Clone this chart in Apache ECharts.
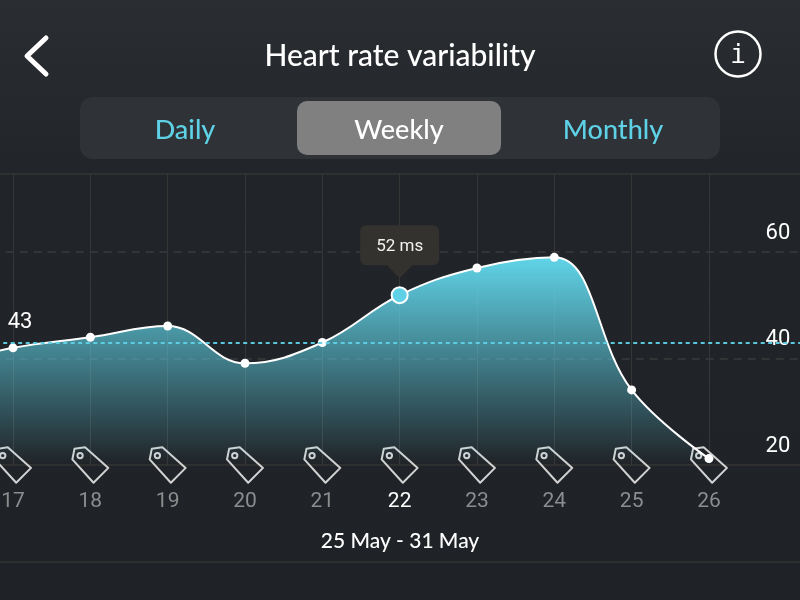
<!DOCTYPE html>
<html><head><meta charset="utf-8">
<style>html,body{margin:0;padding:0;background:#1f2226}#c{width:800px;height:600px}</style>
<script src="https://cdn.jsdelivr.net/npm/echarts@6/dist/echarts.min.js"></script>
</head><body><div id="c"></div>
<script>
var days = ['16','17','18','19','20','21','22','23','24','25','26','',''];
var hrv = [38.5,42,44,46.1,39.1,43,51.9,57,59,34.1,21.2,null,null];
var tagDays = ['17','18','19','20','21','22','23','24','25','26'];
var yTicks = [20,40,60];
var average = 43;
var selectedDay = '22';
var selectedLabel = '52 ms';
var titleText = 'Heart rate variability';
var tabs = ['Daily','Weekly','Monthly'];
var rangeText = '25 May - 31 May';

var CYAN = '#5fd1e6';
var TAG = 'path://M1 12 L3 2 L13 .5 L35 20 L21 34 Z M8.3 5.8 A2.5 2.5 0 1 0 8.31 5.8 Z';
var PIN = 'path://M6 0 H73 A6 6 0 0 1 79 6 V34 A6 6 0 0 1 73 40 H52 L39.5 53 L27 40 H6 A6 6 0 0 1 0 34 V6 A6 6 0 0 1 6 0 Z';
var FONT = 'Lato';
var chart = echarts.init(document.getElementById('c'));
function tabText(t,cx,sel){return {type:'text',x:cx,y:130,style:{text:t,fill:sel?'#ffffff':CYAN,font:'500 27px '+FONT,textAlign:'center',textVerticalAlign:'middle'}};}
chart.setOption({
  animation:false,
  backgroundColor:{type:'linear',x:0,y:0,x2:0,y2:1,colorStops:[{offset:0,color:'#2a2d31'},{offset:.3,color:'#212428'},{offset:1,color:'#1f2226'}]},
  grid:{left:-64.3,right:-63.6,top:174,bottom:135,outerBoundsMode:'none',containLabel:false,show:true,backgroundColor:'transparent',borderColor:'#353433',borderWidth:1.5},
  xAxis:{type:'category',boundaryGap:false,data:days,
    axisLine:{show:false},axisTick:{show:false},
    axisLabel:{interval:0,margin:26,fontFamily:'Roboto',fontSize:21,
      color:function(v){return v===selectedDay?'#ffffff':'#8b8d8f';},
      fontWeight:'normal'},
    splitLine:{show:true,interval:function(i,v){return v!=='';},lineStyle:{color:'#373636',width:1}}},
  yAxis:{type:'value',position:'right',min:20,max:74.65,interval:20,offset:-98,
    axisLine:{show:false},axisTick:{show:false},
    axisLabel:{color:'#ffffff',fontFamily:'Roboto',fontSize:22,margin:0,align:'left',verticalAlign:'bottom',padding:[0,0,8,0],
      formatter:function(v){return yTicks.indexOf(v)>=0?String(v):'';}},
    splitLine:{show:true,showMinLine:false,showMaxLine:false,lineStyle:{color:'#3a3b3d',type:[8,6],width:1.5}}},
  series:[
    {type:'scatter',z:2,silent:true,symbol:TAG,symbolSize:36,symbolKeepAspect:true,
      itemStyle:{color:'rgba(31,34,38,0)',opacity:1,borderColor:'#d2d2d2',borderWidth:2,borderJoin:'round'},
      data:tagDays.map(function(d){return [d,20];})},
    {type:'line',z:3,smooth:0.4,connectNulls:false,showAllSymbol:true,symbol:'circle',symbolSize:9,
      lineStyle:{color:'#ffffff',width:2},
      itemStyle:{color:'#ffffff'},
      areaStyle:{opacity:1,color:{type:'linear',x:0,y:0,x2:0,y2:1,colorStops:[{offset:0,color:'rgba(96,212,232,1)'},{offset:1,color:'rgba(96,212,232,0)'}]}},
      data:hrv.map(function(v,i){
        if(days[i]===selectedDay) return {value:v,symbolSize:16,itemStyle:{color:CYAN,borderColor:'#ffffff',borderWidth:2}};
        return v;}),
      markLine:{silent:true,symbol:'none',label:{show:false},lineStyle:{color:CYAN,type:[4,3.5],width:2,opacity:.95},data:[{yAxis:average}]},
      markPoint:{silent:true,data:[
        {coord:['17',average],symbol:'circle',symbolSize:1,itemStyle:{color:'transparent'},
         label:{show:true,position:'inside',offset:[7,-20],formatter:String(average),color:'#fff',fontFamily:'Roboto',fontSize:22}},
        {coord:[selectedDay,hrv[days.indexOf(selectedDay)]],symbol:PIN,symbolSize:[79,53],symbolKeepAspect:false,symbolOffset:[0,-43.5],
         itemStyle:{color:'#33322f'},
         label:{show:true,position:'inside',offset:[0,-5],formatter:selectedLabel,color:'#f2f2f2',fontFamily:'Roboto',fontSize:17}}
      ]}}
  ],
  graphic:[
    {type:'polyline',shape:{points:[[46,38],[27,56],[46,74]]},style:{stroke:'#fff',lineWidth:5,fill:null,lineCap:'round',lineJoin:'round'}},
    {type:'text',x:400,y:56,style:{text:titleText,fill:'#fff',font:'500 30px '+FONT,textAlign:'center',textVerticalAlign:'middle'}},
    {type:'circle',shape:{cx:738,cy:54,r:22.5},style:{fill:null,stroke:'#fff',lineWidth:2.5}},
    {type:'text',x:738,y:56,style:{text:'i',fill:'#fff',font:'26px "DejaVu Sans Mono"',textAlign:'center',textVerticalAlign:'middle'}},
    {type:'rect',shape:{x:80,y:97,width:640,height:62,r:13},style:{fill:'#2f3337'}},
    {type:'rect',shape:{x:297,y:101,width:204,height:54,r:10},style:{fill:'#808080'}},
    tabText(tabs[0],185,false),tabText(tabs[1],399,true),tabText(tabs[2],613,false),
    {type:'text',x:400,y:541,style:{text:rangeText,fill:'#fff',font:'500 21px '+FONT,textAlign:'center',textVerticalAlign:'middle'}},
    {type:'line',shape:{x1:0,y1:562,x2:800,y2:562},style:{stroke:'#353433',lineWidth:1.5}}
  ]
});
</script></body></html>
